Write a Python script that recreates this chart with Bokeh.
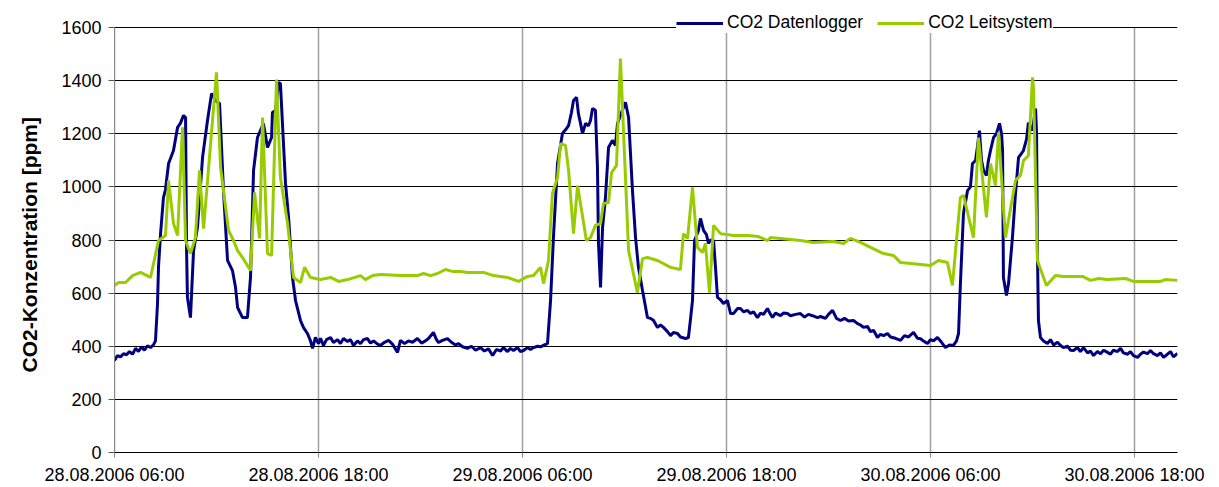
from bokeh.plotting import figure
from bokeh.models import Range1d, FixedTicker, Legend, LegendItem, Title
from bokeh.embed import file_html
from bokeh.resources import INLINE

# ---- data (hours since 28.08.2006 06:00, CO2 in ppm) ----
tick_hours = [0, 12, 24, 36, 48, 60]
tick_labels = ["28.08.2006 06:00", "28.08.2006 18:00", "29.08.2006 06:00",
               "29.08.2006 18:00", "30.08.2006 06:00", "30.08.2006 18:00"]
y_ticks = [0, 200, 400, 600, 800, 1000, 1200, 1400, 1600]

logger_hours = [
    0.00, 0.18, 0.35, 0.53, 0.71, 0.88, 1.06, 1.24, 1.41, 1.59, 1.76, 1.94, 2.12, 2.29, 2.41,
    2.53, 2.59, 2.71, 2.88, 3.00, 3.18, 3.47, 3.71, 3.88, 4.06, 4.18, 4.24, 4.29, 4.47, 4.65,
    4.88, 5.18, 5.47, 5.71, 5.94, 6.18, 6.41, 6.65, 6.94, 7.12, 7.24, 7.53, 7.82, 8.00, 8.18,
    8.41, 8.76, 9.00, 9.24, 9.29, 9.47, 9.65, 9.76, 10.06, 10.24, 10.47, 10.65, 10.94, 11.12,
    11.35, 11.53, 11.65, 11.82, 12.00, 12.12, 12.29, 12.47, 12.71, 12.88, 13.12, 13.29, 13.47,
    13.71, 13.88, 14.06, 14.29, 14.47, 14.65, 14.88, 15.06, 15.24, 15.47, 15.65, 15.88, 16.12,
    16.35, 16.65, 16.82, 17.06, 17.29, 17.53, 17.82, 18.06, 18.29, 18.47, 18.76, 18.94, 19.06,
    19.29, 19.59, 19.82, 20.06, 20.24, 20.47, 20.76, 21.00, 21.24, 21.53, 21.76, 22.00, 22.24,
    22.47, 22.71, 22.88, 23.12, 23.29, 23.47, 23.71, 23.88, 24.06, 24.29, 24.47, 24.65, 24.88,
    25.06, 25.29, 25.47, 25.65, 25.82, 26.06, 26.35, 26.53, 26.71, 26.88, 27.00, 27.18, 27.29,
    27.41, 27.53, 27.71, 27.88, 28.00, 28.12, 28.29, 28.41, 28.47, 28.59, 28.71, 28.88, 29.06,
    29.29, 29.47, 29.59, 29.82, 30.06, 30.24, 30.47, 30.65, 30.82, 31.06, 31.35, 31.53, 31.71,
    31.94, 32.12, 32.29, 32.53, 32.71, 32.88, 33.12, 33.29, 33.59, 33.76, 33.88, 34.00, 34.12,
    34.35, 34.47, 34.65, 34.82, 34.94, 35.06, 35.24, 35.35, 35.47, 35.65, 35.82, 36.06, 36.24,
    36.41, 36.65, 36.82, 37.00, 37.24, 37.41, 37.59, 37.82, 38.00, 38.18, 38.41, 38.59, 38.71,
    38.88, 39.18, 39.35, 39.59, 39.76, 40.06, 40.35, 40.59, 40.82, 41.06, 41.35, 41.53, 41.82,
    42.00, 42.24, 42.47, 42.71, 42.94, 43.18, 43.47, 43.71, 43.88, 44.06, 44.29, 44.47, 44.65,
    44.88, 45.06, 45.24, 45.47, 45.65, 45.94, 46.24, 46.47, 46.71, 47.00, 47.24, 47.41, 47.59,
    47.82, 48.00, 48.18, 48.41, 48.65, 48.88, 49.12, 49.35, 49.53, 49.65, 49.76, 49.94, 50.18,
    50.35, 50.47, 50.65, 50.76, 50.88, 51.00, 51.12, 51.29, 51.41, 51.53, 51.71, 51.88, 52.06,
    52.18, 52.24, 52.29, 52.47, 52.59, 52.82, 53.00, 53.18, 53.29, 53.47, 53.65, 53.76, 54.00,
    54.18, 54.24, 54.29, 54.35, 54.47, 54.65, 54.88, 55.06, 55.24, 55.47, 55.65, 55.82, 56.06,
    56.24, 56.41, 56.65, 56.82, 57.00, 57.24, 57.41, 57.59, 57.82, 58.00, 58.18, 58.41, 58.59,
    58.76, 59.00, 59.18, 59.35, 59.59, 59.76, 59.94, 60.18, 60.35, 60.53, 60.76, 60.94, 61.12,
    61.35, 61.53, 61.71, 61.94, 62.12, 62.29, 62.53,
]
logger_ppm = [
    346, 365, 360, 372, 368, 380, 370, 392, 380, 398, 385, 402, 395, 405, 420,
    560, 700, 824, 960, 990, 1088, 1137, 1224, 1240, 1269, 1261, 760, 584, 508, 760,
    847, 1111, 1250, 1352, 1325, 1314, 986, 723, 685, 621, 546, 508, 508, 659, 1062,
    1186, 1239, 1148, 1186, 1280, 1288, 1393, 1389, 1013, 885, 659, 572, 497, 470,
    448, 420, 392, 433, 410, 430, 403, 425, 433, 414, 425, 410, 429,
    418, 425, 403, 420, 410, 425, 429, 412, 420, 408, 403, 415, 422,
    408, 377, 422, 410, 420, 415, 429, 412, 420, 429, 452, 425, 414,
    422, 429, 415, 405, 410, 398, 392, 400, 385, 395, 382, 390, 365,
    388, 382, 395, 380, 392, 384, 395, 380, 384, 395, 388, 395, 400,
    398, 405, 410, 572, 809, 1088, 1201, 1215, 1231, 1280, 1325, 1337, 1276,
    1240, 1201, 1239, 1230, 1250, 1295, 1288, 1073, 787, 621, 847, 960, 1148,
    1175, 1156, 1239, 1280, 1318, 1261, 986, 809, 697, 610, 508, 505, 497,
    471, 480, 471, 455, 440, 452, 448, 435, 429, 433, 500, 572, 798,
    836, 881, 836, 820, 787, 800, 798, 700, 584, 575, 561, 572, 523,
    523, 542, 542, 530, 535, 523, 530, 508, 525, 520, 542, 520, 508,
    525, 515, 525, 523, 515, 520, 523, 510, 520, 515, 508, 512, 505,
    520, 535, 505, 497, 505, 495, 497, 485, 480, 471, 475, 455, 460,
    433, 445, 440, 448, 435, 430, 422, 440, 435, 452, 430, 428, 420,
    410, 425, 420, 433, 415, 395, 405, 403, 420, 448, 636, 900, 986,
    1000, 1088, 1099, 1150, 1212, 1100, 1062, 1043, 1100, 1137, 1186, 1200, 1239,
    1200, 1137, 659, 591, 636, 809, 975, 1111, 1120, 1137, 1180, 1242, 1212,
    1295, 1200, 760, 497, 433, 420, 410, 425, 405, 415, 403, 395, 400,
    385, 384, 395, 380, 395, 375, 382, 365, 380, 372, 385, 377, 370,
    385, 380, 392, 375, 370, 380, 365, 358, 370, 378, 372, 384, 372,
    365, 375, 358, 370, 380, 360, 373,
]

leit_hours = [
    0.00, 0.24, 0.65, 1.06, 1.53, 2.12, 2.59, 3.00, 3.18, 3.47, 3.71, 4.00, 4.18, 4.47, 4.76,
    5.00, 5.24, 6.00, 6.24, 6.71, 7.00, 7.24, 7.53, 8.00, 8.24, 8.53, 8.71, 9.00, 9.24, 9.53,
    9.76, 10.18, 10.53, 10.94, 11.18, 11.53, 12.12, 12.71, 13.18, 13.71, 14.47, 14.76, 15.18,
    15.65, 16.82, 17.82, 18.18, 18.59, 19.00, 19.47, 19.94, 20.35, 20.76, 21.71, 22.29, 23.12,
    23.76, 24.29, 24.65, 25.06, 25.24, 25.53, 25.76, 26.06, 26.24, 26.53, 26.71, 27.00, 27.24,
    27.76, 28.00, 28.29, 28.59, 28.76, 29.06, 29.24, 29.53, 29.76, 30.24, 30.76, 31.06, 31.35,
    31.94, 32.71, 33.29, 33.47, 33.71, 34.00, 34.29, 34.59, 34.76, 35.00, 35.24, 35.65, 36.41,
    37.24, 37.88, 38.41, 38.59, 40.35, 41.12, 42.29, 42.88, 43.29, 43.88, 44.47, 45.24, 45.82,
    46.24, 47.00, 48.00, 48.47, 49.00, 49.29, 49.76, 49.94, 50.53, 50.82, 51.29, 51.53, 51.82,
    52.00, 52.41, 53.00, 53.29, 53.47, 53.76, 54.00, 54.06, 54.29, 54.82, 55.35, 55.82, 56.94,
    57.41, 57.88, 58.41, 59.47, 59.94, 61.53, 61.82, 62.53,
]
leit_ppm = [
    629, 640, 640, 666, 678, 659, 798, 817, 1024, 862, 817, 1224, 798, 749, 809,
    1062, 843, 1431, 1073, 836, 798, 760, 734, 685, 979, 806, 1261, 749, 742, 1404,
    1035, 862, 659, 640, 697, 659, 651, 659, 644, 651, 666, 651, 666,
    670, 666, 666, 674, 666, 674, 689, 681, 681, 678, 678, 666, 659,
    644, 663, 666, 697, 636, 723, 975, 1035, 1163, 1156, 1062, 824, 1005,
    798, 809, 855, 862, 937, 941, 1054, 1081, 1483, 760, 602, 730, 734,
    723, 697, 689, 824, 806, 998, 772, 753, 787, 602, 855, 824, 817,
    817, 813, 798, 809, 798, 791, 794, 787, 806, 791, 772, 749, 742,
    715, 711, 704, 723, 715, 629, 960, 968, 809, 1186, 885, 1088, 1005,
    1205, 809, 1024, 1043, 1099, 1118, 1412, 1374, 723, 629, 666, 663, 663,
    648, 655, 651, 655, 644, 644, 651, 648,
]

FONT = "Liberation Sans"

# layout (pixels)
W, H = 1219, 487
BORDER_L, BORDER_R, BORDER_T, BORDER_B = 114, 42, 3, 35
HEADROOM = 24            # free pixels above the top gridline for the legend
frame_h = H - BORDER_T - BORDER_B
y_top = y_ticks[-1] * frame_h / (frame_h - HEADROOM)

p = figure(width=W, height=H, output_backend="svg", toolbar_location=None,
           x_range=Range1d(0, 62.53), y_range=Range1d(0, y_top),
           min_border_left=BORDER_L, min_border_right=BORDER_R,
           min_border_top=BORDER_T, min_border_bottom=BORDER_B)
p.outline_line_color = None
p.background_fill_color = "white"
p.border_fill_color = "white"

# vertical grid lines (only up to the top tick)
p.segment(x0=tick_hours, y0=[y_ticks[0]] * len(tick_hours),
          x1=tick_hours, y1=[y_ticks[-1]] * len(tick_hours),
          line_color="#a0a0a0", line_width=1.5, level="underlay")

r1 = p.line(logger_hours, logger_ppm, line_color="#000080", line_width=3)
r2 = p.line(leit_hours, leit_ppm, line_color="#99CC00", line_width=3)

# axes
p.xaxis.ticker = FixedTicker(ticks=tick_hours)
p.xaxis.major_label_overrides = {h: lab for h, lab in zip(tick_hours, tick_labels)}
p.xaxis.minor_tick_line_color = None
p.xaxis.major_tick_in = 0
p.xaxis.major_tick_out = 5
p.xaxis.major_tick_line_color = "#888888"
p.xaxis.axis_line_color = "black"
p.xaxis.major_label_text_font = FONT
p.xaxis.major_label_text_font_size = "18px"
p.xaxis.major_label_text_color = "black"
p.xaxis.major_label_standoff = 7

p.yaxis.ticker = FixedTicker(ticks=y_ticks)
p.yaxis.bounds = (y_ticks[0], y_ticks[-1])
p.yaxis.minor_tick_line_color = None
p.yaxis.major_tick_in = 0
p.yaxis.major_tick_out = 6
p.yaxis.major_tick_line_color = "#555555"
p.yaxis.axis_line_color = "#888888"
p.yaxis.major_label_text_font = FONT
p.yaxis.major_label_text_font_size = "18px"
p.yaxis.major_label_text_color = "black"
p.yaxis.major_label_standoff = 7

# y-axis title (starts from the bottom of the frame, shifted up)
ytitle = Title(text="CO2-Konzentration [ppm]", align="left", offset=80,
               vertical_align="top",
               text_font=FONT, text_font_size="21px", text_font_style="bold",
               text_color="black", standoff=32)
p.add_layout(ytitle, "left")

# grids
p.ygrid.ticker = FixedTicker(ticks=y_ticks)
p.ygrid.grid_line_color = "black"
p.ygrid.grid_line_width = 1
p.xgrid.grid_line_color = None

legend = Legend(items=[LegendItem(label="CO2 Datenlogger", renderers=[r1]),
                       LegendItem(label="CO2 Leitsystem", renderers=[r2])],
                orientation="horizontal", location=(562, 419),
                label_text_font=FONT, label_text_font_size="17.5px", label_text_color="black",
                glyph_width=47, glyph_height=20, label_standoff=4, spacing=14,
                padding=14, margin=0, border_line_color=None,
                background_fill_color="white", background_fill_alpha=1.0)
p.add_layout(legend, "center")

open("out.html", "w").write(file_html(p, INLINE))
